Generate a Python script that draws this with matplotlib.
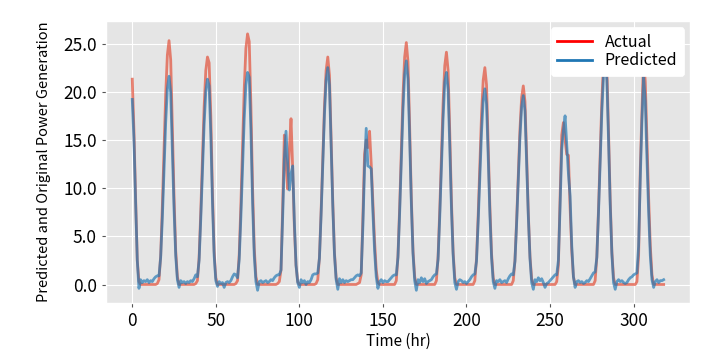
import numpy as np
import matplotlib
matplotlib.use("Agg")
import matplotlib.pyplot as plt
from matplotlib.lines import Line2D

# Hourly series
actual = [
    21.3, 16.0, 9.0, 2.5, 0.3,
    0, 0, 0, 0, 0, 0, 0, 0, 0, 0, 0.1,
    0.5, 3.0, 8.1, 13.9, 19.7, 23.8, 25.3, 23.3, 16.4, 9.1, 3.5, 0.8, 0.0,
    0, 0, 0, 0, 0, 0, 0, 0, 0, 0.1,
    0.4, 2.8, 7.6, 13.0, 18.4, 22.2, 23.6, 23.0, 17.5, 9.5, 3.5, 0.7, 0.0,
    0, 0, 0, 0, 0, 0, 0, 0, 0, 0, 0.1,
    0.4, 3.1, 8.3, 14.3, 20.3, 24.5, 26.0, 25.2, 18.5, 10.0, 3.8, 0.8, 0.0,
    0, 0, 0, 0, 0, 0, 0, 0, 0, 0, 0, 0.1,
    0.3, 1.5, 8.0, 15.5, 12.5, 9.9, 14.0, 17.2, 12.0, 6.0, 2.0, 0.3, 0.0,
    0, 0, 0, 0, 0, 0, 0, 0, 0, 0.1,
    0.5, 2.8, 7.6, 13.0, 18.4, 22.2, 23.6, 21.7, 15.3, 8.5, 3.3, 0.7, 0.0,
    0, 0, 0, 0, 0, 0, 0, 0, 0, 0, 0, 0.1,
    0.2, 1.0, 7.0, 13.5, 15.0, 14.2, 15.9, 12.5, 8.5, 4.5, 1.5, 0.2, 0.0,
    0, 0, 0, 0, 0, 0, 0, 0, 0,
    0.4, 3.0, 8.0, 13.8, 19.6, 23.6, 25.1, 23.1, 16.3, 9.0, 3.5, 0.8, 0.0,
    0, 0, 0, 0, 0, 0, 0, 0, 0, 0, 0,
    0.4, 2.9, 7.7, 13.3, 18.8, 22.7, 24.1, 22.2, 15.7, 8.7, 3.4, 0.7, 0.0,
    0, 0, 0, 0, 0, 0, 0, 0, 0, 0,
    0.4, 2.7, 7.2, 12.4, 17.6, 21.2, 22.5, 20.7, 14.6, 8.1, 3.2, 0.7, 0.0,
    0, 0, 0, 0, 0, 0, 0, 0, 0, 0,
    0.4, 2.5, 6.6, 11.3, 16.1, 19.4, 20.6, 19.0, 13.4, 7.4, 2.9, 0.6, 0.0,
    0, 0, 0, 0, 0, 0, 0, 0, 0, 0, 0, 0, 0,
    0.3, 2.0, 9.0, 15.5, 16.8, 15.0, 13.5, 13.4, 8.0, 3.5, 0.8, 0.0,
    0, 0, 0, 0, 0, 0, 0, 0, 0, 0, 0,
    0.4, 2.9, 7.8, 13.5, 19.1, 23.0, 24.5, 22.5, 15.9, 8.8, 3.4, 0.7, 0.0,
    0, 0, 0, 0, 0, 0, 0, 0, 0, 0, 0, 0,
    0.3, 3.0, 12.0, 18.0, 23.5, 21.0, 15.0, 9.0, 4.0, 1.0, 0.0,
    0, 0, 0, 0, 0, 0,
]

predicted = [
    19.2, 15.0, 8.5, 2.5, -0.4,
    0.5, 0.2, 0.4, 0.3, 0.5, 0.2, 0.4, 0.3, 0.6, 0.8, 0.9,
    0.9, 2.8, 6.9, 11.9, 16.8, 20.3, 21.6, 19.9, 14.0, 7.8, 3.0, 0.5, -0.3,
    0.4, 0.2, 0.3, 0.1, 0.3, 0.2, 0.4, 0.3, 0.6, 1.0,
    0.8, 2.5, 6.8, 11.7, 16.6, 20.0, 21.3, 20.6, 15.5, 8.5, 3.0, 0.4, -0.2,
    0.3, 0.1, 0.2, -0.3, 0.2, 0.3, 0.2, 0.4, 0.8, 1.1, 1.0,
    0.7, 2.6, 7.0, 12.1, 17.2, 20.7, 22.0, 21.5, 16.0, 8.5, 3.0, 0.3, -0.6,
    0.3, 0.4, 0.2, 0.3, 0.4, 0.2, 0.3, 0.5, 0.4, 0.7, 0.9, 1.0,
    1.0, 1.5, 7.0, 13.0, 15.9, 12.5, 9.8, 11.5, 12.3, 6.5, 2.0, 0.2, -0.3,
    0.5, 0.2, 0.4, 0.0, 0.3, 0.2, 0.5, 1.0, 1.1, 1.1,
    1.2, 2.7, 7.2, 12.4, 17.6, 21.2, 22.5, 20.7, 14.6, 8.1, 3.1, 0.5, -0.5,
    0.6, 0.2, 0.5, 0.2, 0.4, 0.3, 0.4, 0.5, 0.5, 0.7, 0.9, 1.0,
    0.9, 1.2, 6.0, 12.0, 16.2, 12.3, 12.2, 12.0, 7.5, 3.5, 0.8, -0.4, 0.3,
    0.5, 0.2, 0.4, 0.3, 0.3, 0.5, 0.7, 0.9, 1.0,
    1.0, 2.8, 7.4, 12.8, 18.1, 21.8, 23.2, 21.3, 15.1, 8.4, 3.2, 0.4, -0.6,
    0.5, 0.2, 0.7, 0.3, 0.6, 0.1, 0.3, 0.4, 0.5, 0.8, 1.0,
    1.1, 2.6, 7.0, 12.1, 17.2, 21.0, 22.0, 20.2, 14.3, 7.9, 3.1, 0.2, -0.5,
    0.3, 0.5, 0.4, 0.2, 0.3, 0.1, 0.3, 0.5, 0.8, 1.0,
    1.1, 2.4, 6.5, 11.2, 15.8, 19.1, 20.3, 18.7, 13.2, 7.3, 2.8, 0.3, -0.4,
    0.4, 0.3, 0.5, 0.2, 0.3, 0.4, 0.2, 0.6, 0.9, 1.1,
    1.0, 2.4, 6.3, 10.8, 15.3, 18.4, 19.6, 18.0, 12.7, 7.1, 2.7, 0.2, -0.5,
    0.5, 0.3, 0.7, 0.4, 0.6, 0.2, -0.3, 0.1, 0.2, 0.4, 0.6, 0.8, 1.0,
    1.0, 2.5, 8.0, 14.0, 16.0, 17.5, 14.5, 11.5, 9.2, 4.0, 0.8, -0.3,
    0.3, 0.4, 0.2, 0.3, 0.1, 0.2, 0.4, 0.3, 0.6, 0.9, 1.2,
    1.3, 2.8, 7.4, 12.7, 17.9, 21.6, 23.0, 21.2, 15.0, 8.3, 3.2, 0.2, -0.5,
    0.3, 0.5, 0.3, 0.4, 0.2, 0.1, 0.2, 0.5, 0.7, 0.8, 1.0, 1.1,
    1.2, 4.0, 11.0, 17.0, 21.5, 19.0, 13.0, 7.5, 3.0, 0.5, -0.3,
    0.3, 0.5, 0.2, 0.4, 0.4, 0.5,
]

series_labels = ["Actual", "Predicted"]
xlabel = "Time (hr)"
ylabel = "Predicted and Original Power Generation"

plt.style.use("ggplot")
plt.rcParams["font.family"] = ["Noto Sans CJK KR", "DejaVu Sans"]

fig = plt.figure(figsize=(7.19, 3.63), dpi=100)
ax = fig.add_axes([0.147, 0.165, 0.813, 0.777])

t = np.arange(len(actual))
ax.plot(t, actual, color="#E24A33", alpha=0.68, lw=2.0)
ax.plot(t, predicted, color="#1f77b4", alpha=0.68, lw=2.0)

ax.yaxis.set_major_formatter(matplotlib.ticker.FormatStrFormatter("%.1f"))
ax.set_xticks([0, 50, 100, 150, 200, 250, 300])
ax.set_yticks([0, 5, 10, 15, 20, 25])
ax.tick_params(axis="both", labelsize=12.5, colors="#555555", labelcolor="black", length=3)
ax.set_xlabel(xlabel, fontsize=11, color="black", labelpad=2)
ax.set_ylabel(ylabel, fontsize=10.5, color="black", labelpad=9)

handles = [Line2D([0], [0], color="red", lw=2), Line2D([0], [0], color="#1f77b4", lw=2)]
leg = ax.legend(handles, series_labels, loc="upper right", fontsize=11.5,
                facecolor="white", edgecolor="white", framealpha=1.0,
                borderaxespad=0.4, handlelength=2.2, labelspacing=0.1)

fig.savefig("out.png", dpi=100)
